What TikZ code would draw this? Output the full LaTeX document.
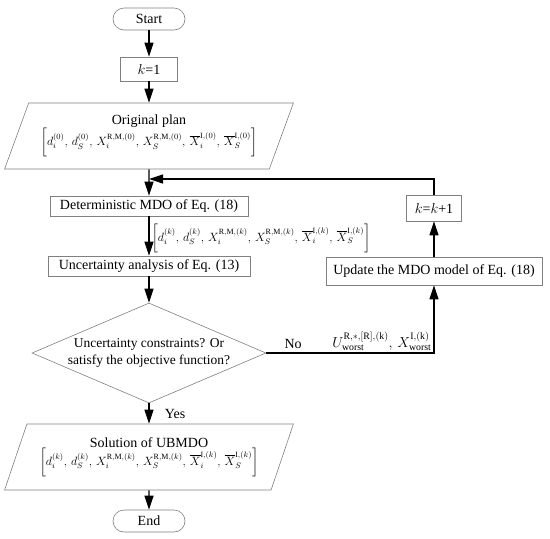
\documentclass[tikz,border=0pt]{standalone}
\usepackage{amsmath}
\usepackage{fontspec}
\setmainfont{Liberation Serif}
\usetikzlibrary{shapes.geometric,arrows.meta}

\newcommand{\planvec}[1]{{\fontsize{12}{14}\selectfont$\bigg[d_i^{(#1)},\,d_S^{(#1)},\,X_i^{\mathrm{R,M},(#1)},\,X_S^{\mathrm{R,M},(#1)},\,\overline{X}_i^{\mathrm{I},(#1)},\,\overline{X}_S^{\mathrm{I},(#1)}\bigg]$}}

\begin{document}
\begin{tikzpicture}[x=1pt,y=-1pt,font=\fontsize{14}{18}\selectfont,
    box/.style={draw=gray,line width=.6pt,minimum height=20,inner sep=2pt},
    term/.style={box,rounded corners=11,minimum width=72,minimum height=22},
    io/.style={draw=gray,line width=.6pt,trapezium,trapezium left angle=63,trapezium right angle=117,
      trapezium stretches=true,minimum width=289,minimum height=66,align=center,inner sep=0pt},
    dec/.style={draw=gray,line width=.6pt,diamond,minimum width=234,minimum height=100,aspect=2.34,
      align=center,inner sep=-2pt,font=\fontsize{13.5}{17}\selectfont},
    flow/.style={-{Triangle[length=14,width=9]},line width=1.2pt}]
    \useasboundingbox (0,0) rectangle (550,539);
    % main column
    \node[term] (start) at (149,19) {Start};
    \node[box,minimum width=57,minimum height=24] (kone) at (149,69) {$k$=1};
    \node[io] (plan) at (149,136) {Original plan\\[0pt] \planvec{0}};
    \node[box,minimum width=198] (det) at (149,206) {Deterministic MDO of Eq. (18)};
    \node[box,minimum width=202] (unc) at (149,266) {Uncertainty analysis of Eq. (13)};
    \node[dec] (check) at (149,353) {Uncertainty constraints? Or\\ satisfy the objective function?};
    \node[io] (sol) at (149,457) {Solution of UBMDO\\[0pt] \planvec{k}};
    \node[term] (end) at (149,521) {End};
    % update loop
    \node[box,minimum width=216,minimum height=28] (upd) at (434,271) {Update the MDO model of Eq. (18)};
    \node[box,minimum width=55,minimum height=26] (knext) at (434,208) {$k$=$k$+1};
    \coordinate (join) at (149,179);
    \coordinate (turn) at (upd.south |- check.east);

    \draw[flow] (start) -- (kone);
    \draw[flow] (kone) -- (plan);
    \draw[flow] (plan) -- (det);
    \draw[flow] (det) -- node[right=1pt,yshift=-2pt,inner sep=1pt] {\planvec{k}} (unc);
    \draw[flow] (unc) -- (check);
    \draw[flow] (check) -- node[right=12pt] {Yes} (sol);
    \draw[flow] (sol) -- (end);
    \draw[flow] (check.east) -- node[above,pos=.16] {No}
      node[above left,pos=1,inner sep=2pt] {$U_{\mathrm{worst}}^{\mathrm{R},*,[\mathrm{R}],(\mathrm{k})},\,X_{\mathrm{worst}}^{\mathrm{I},(\mathrm{k})}$} (turn) -- (upd);
    \draw[flow] (upd) -- (knext);
    \draw[flow] (knext) |- (join);
  \end{tikzpicture}
\end{document}
